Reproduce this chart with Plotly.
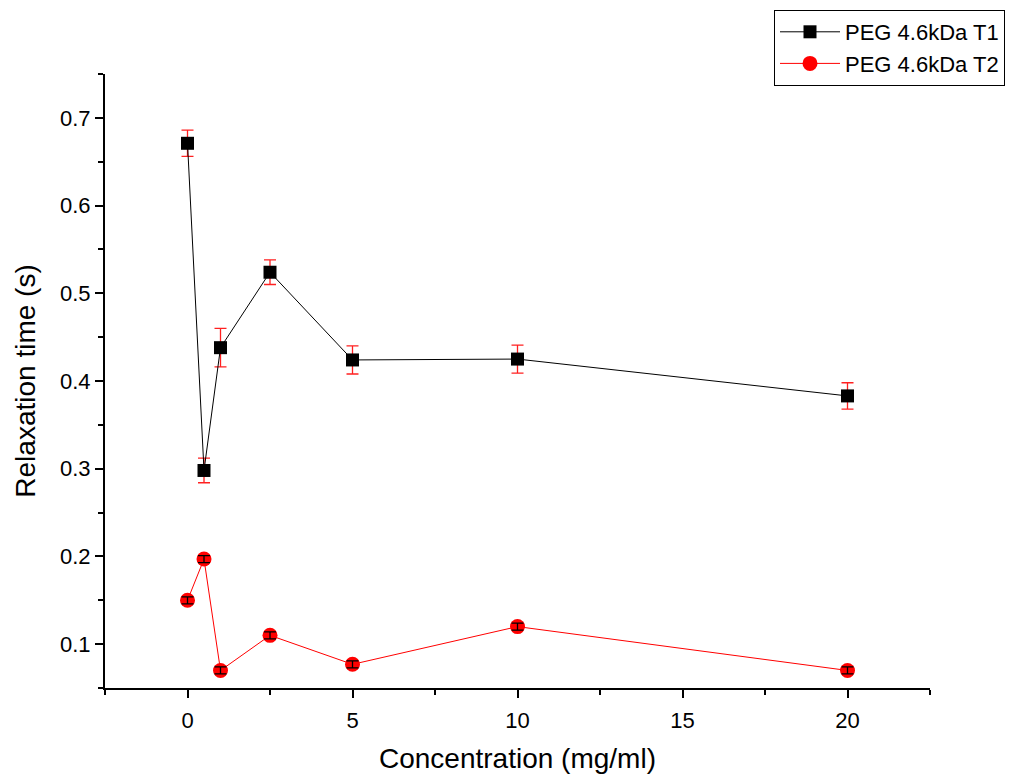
import plotly.graph_objects as go

conc = [0, 0.5, 1, 2.5, 5, 10, 20]
t1 = [0.671, 0.298, 0.438, 0.524, 0.424, 0.425, 0.383]
t1_err = [0.015, 0.014, 0.022, 0.014, 0.016, 0.016, 0.015]
t2 = [0.150, 0.197, 0.070, 0.110, 0.077, 0.120, 0.070]
t2_err = [0.004, 0.004, 0.004, 0.004, 0.004, 0.004, 0.004]

FONT = "Liberation Sans, Arial, sans-serif"

fig = go.Figure()
fig.add_trace(go.Scatter(
    x=conc, y=t1, mode="lines+markers", name="PEG 4.6kDa T1",
    line=dict(color="black", width=1),
    marker=dict(symbol="square", size=13, color="black"),
    error_y=dict(type="data", array=t1_err, color="#ff2020", thickness=1.3, width=6),
))
fig.add_trace(go.Scatter(
    x=conc, y=t2, mode="lines+markers", name="PEG 4.6kDa T2",
    line=dict(color="red", width=1),
    marker=dict(symbol="circle", size=15, color="red"),
))
# black error bars drawn over the red circles
fig.add_trace(go.Scatter(
    x=conc, y=t2, mode="markers", showlegend=False, hoverinfo="skip",
    marker=dict(size=1, color="rgba(0,0,0,0)"),
    error_y=dict(type="data", array=t2_err, color="black", thickness=1.3, width=6),
))

axis_common = dict(
    showline=True, linecolor="black", linewidth=2, mirror=False,
    ticks="outside", ticklen=8, tickwidth=2, tickcolor="black",
    showgrid=False, zeroline=False,
    tickfont=dict(family=FONT, size=22, color="black"),
)

fig.update_xaxes(
    range=[-2.5, 22.5], dtick=5, tick0=0, ticklabelstandoff=4,
    minor=dict(ticks="outside", ticklen=5, tickwidth=2, tickcolor="black", dtick=2.5, tick0=0),
    title=dict(text="Concentration (mg/ml)", font=dict(family=FONT, size=28, color="black"), standoff=16),
    **axis_common,
)
fig.update_yaxes(
    range=[0.05, 0.75], dtick=0.1, tick0=0.1,
    minor=dict(ticks="outside", ticklen=5, tickwidth=2, tickcolor="black", dtick=0.05, tick0=0.05),
    title=dict(text="Relaxation time (s)", font=dict(family=FONT, size=28, color="black"), standoff=16),
    **axis_common,
)

# page body has an 8px offset; figure spans x 8..1036, y 8..784 on screen
fig.update_layout(
    width=1028, height=776,
    margin=dict(l=97, r=106, t=66, b=96, autoexpand=False),
    paper_bgcolor="white", plot_bgcolor="white",
    font=dict(family=FONT, color="black"),
    legend=dict(
        x=(766 - 97) / 825, y=(680 - 2) / 614, xanchor="left", yanchor="top",
        bordercolor="black", borderwidth=1, bgcolor="white",
        font=dict(family=FONT, size=22, color="black"),
        itemwidth=60, tracegroupgap=0,
    ),
    showlegend=True,
)

fig.write_html("out.html")
